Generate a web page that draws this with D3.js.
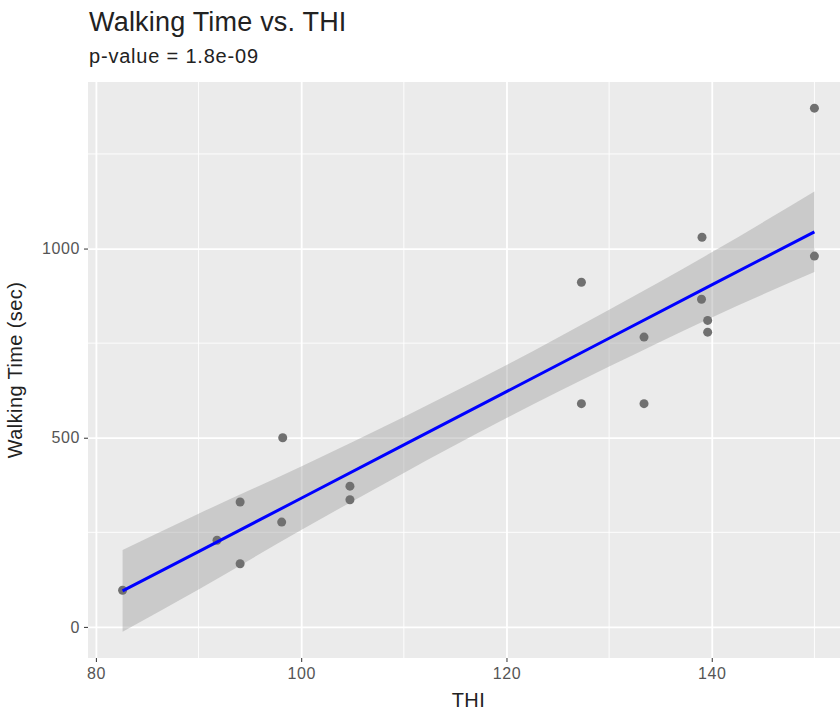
<!DOCTYPE html>
<html>
<head>
<meta charset="utf-8">
<script src="https://cdn.jsdelivr.net/npm/d3@7/dist/d3.min.js"></script>
<style>
  body { margin: 0; background: #fff; }
  svg { display: block; font-family: "Liberation Sans", Arial, sans-serif; }
</style>
</head>
<body>
<script>

// observations (THI, walking time in sec)
var thi = [150, 139.05, 150, 127.3, 139, 139.6, 139.6, 133.4, 127.3, 133.4,
           98.2, 94.05, 104.75, 104.75, 98.1, 91.8, 94.05, 82.6];
var walkTime = [1371, 1030, 980, 911, 866, 810, 779, 766, 590, 590,
                500, 330, 372, 336, 277, 229, 167, 97];

// fitted line and its confidence band
var fitThi   = [82.6, 90, 100, 110, 119.3, 130, 140, 150];
var fitValue = [95, 199, 340, 481, 612, 763, 904, 1044];
var fitLower = [-13, 99, 256, 407, 542, 688, 818, 938];
var fitUpper = [203, 299, 424, 555, 682, 838, 990, 1151];

var xTicks = [80, 100, 120, 140];
var yTicks = [0, 500, 1000];
var xMinor = [90, 110, 130, 150];
var yMinor = [250, 750, 1250];

var title = "Walking Time vs. THI",
    subtitle = "p-value = 1.8e-09",
    xTitle = "THI",
    yTitle = "Walking Time (sec)";

var W = 840, H = 715;
var panel = {left: 88, right: 849, top: 82, bottom: 658};

var svg = d3.select("body")
    .append("svg")
    .attr("width", W)
    .attr("height", H);

var points = thi.map(function(d, i) { return {x: d, y: walkTime[i]}; });
var band = fitThi.map(function(d, i) {
  return {x: d, fit: fitValue[i], lo: fitLower[i], hi: fitUpper[i]};
});

// ggplot style 5% expansion on both axes
function expand(ext) {
  var pad = (ext[1] - ext[0]) * 0.05;
  return [ext[0] - pad, ext[1] + pad];
}

var xExt = d3.extent(thi);
var yExt = [d3.min([d3.min(walkTime), d3.min(fitLower)]),
            d3.max([d3.max(walkTime), d3.max(fitUpper)])];

var x = d3.scaleLinear().domain(expand(xExt)).range([panel.left, panel.right]);
var y = d3.scaleLinear().domain(expand(yExt)).range([panel.bottom, panel.top]);

// panel background
svg.append("rect")
    .attr("x", panel.left)
    .attr("y", panel.top)
    .attr("width", panel.right - panel.left)
    .attr("height", panel.bottom - panel.top)
    .attr("fill", "#ebebeb");

// minor gridlines
svg.append("g").selectAll("line")
    .data(xMinor)
    .enter().append("line")
    .attr("x1", function(d) { return x(d); })
    .attr("x2", function(d) { return x(d); })
    .attr("y1", panel.top).attr("y2", panel.bottom)
    .attr("stroke", "#fff").attr("stroke-width", 0.9);

svg.append("g").selectAll("line")
    .data(yMinor)
    .enter().append("line")
    .attr("y1", function(d) { return y(d); })
    .attr("y2", function(d) { return y(d); })
    .attr("x1", panel.left).attr("x2", panel.right)
    .attr("stroke", "#fff").attr("stroke-width", 0.9);

// major gridlines
svg.append("g")
    .attr("transform", "translate(0," + panel.bottom + ")")
    .call(d3.axisBottom(x).tickValues(xTicks).tickSize(-(panel.bottom - panel.top)).tickFormat(""))
    .call(function(g) { g.select(".domain").remove(); })
    .selectAll("line").attr("stroke", "#fff").attr("stroke-width", 1.8);

svg.append("g")
    .attr("transform", "translate(" + panel.left + ",0)")
    .call(d3.axisLeft(y).tickValues(yTicks).tickSize(-(panel.right - panel.left)).tickFormat(""))
    .call(function(g) { g.select(".domain").remove(); })
    .selectAll("line").attr("stroke", "#fff").attr("stroke-width", 1.8);

// confidence band
var area = d3.area()
    .curve(d3.curveMonotoneX)
    .x(function(d) { return x(d.x); })
    .y0(function(d) { return y(d.lo); })
    .y1(function(d) { return y(d.hi); });

svg.append("path")
    .datum(band)
    .attr("d", area)
    .attr("fill", "#999999")
    .attr("fill-opacity", 0.4);

// points
svg.append("g").selectAll("circle")
    .data(points)
    .enter().append("circle")
    .attr("cx", function(d) { return x(d.x); })
    .attr("cy", function(d) { return y(d.y); })
    .attr("r", 4.5)
    .attr("fill", "#707070");

// fitted line
var line = d3.line()
    .x(function(d) { return x(d.x); })
    .y(function(d) { return y(d.fit); });

svg.append("path")
    .datum(band)
    .attr("d", line)
    .attr("fill", "none")
    .attr("stroke", "#0000ff")
    .attr("stroke-width", 3);

// axes
var xAxis = svg.append("g")
    .attr("transform", "translate(0," + panel.bottom + ")")
    .call(d3.axisBottom(x).tickValues(xTicks).tickSize(4).tickPadding(6).tickFormat(d3.format("d")));
xAxis.select(".domain").remove();
xAxis.selectAll("line").attr("stroke", "#333");
xAxis.selectAll("text")
    .attr("fill", "#555")
    .style("font-size", "16px")
    .style("letter-spacing", "0.6px");

var yAxis = svg.append("g")
    .attr("transform", "translate(" + panel.left + ",0)")
    .call(d3.axisLeft(y).tickValues(yTicks).tickSize(4).tickPadding(4).tickFormat(d3.format("d")));
yAxis.select(".domain").remove();
yAxis.selectAll("line").attr("stroke", "#333");
yAxis.selectAll("text")
    .attr("fill", "#555")
    .style("font-size", "16px")
    .style("letter-spacing", "0.6px");

// titles
svg.append("text")
    .attr("x", 89).attr("y", 31)
    .style("font-size", "27px")
    .style("letter-spacing", "0.2px")
    .attr("fill", "#222")
    .text(title);

svg.append("text")
    .attr("x", 89).attr("y", 63)
    .style("font-size", "20px")
    .style("letter-spacing", "0.8px")
    .attr("fill", "#222")
    .text(subtitle);

svg.append("text")
    .attr("x", (panel.left + panel.right) / 2).attr("y", 707)
    .attr("text-anchor", "middle")
    .style("font-size", "20px")
    .style("letter-spacing", "0.5px")
    .attr("fill", "#222")
    .text(xTitle);

svg.append("text")
    .attr("transform", "translate(22," + (panel.top + panel.bottom) / 2 + ") rotate(-90)")
    .attr("text-anchor", "middle")
    .style("font-size", "20px")
    .style("letter-spacing", "0.4px")
    .attr("fill", "#222")
    .text(yTitle);

</script>
</body>
</html>
